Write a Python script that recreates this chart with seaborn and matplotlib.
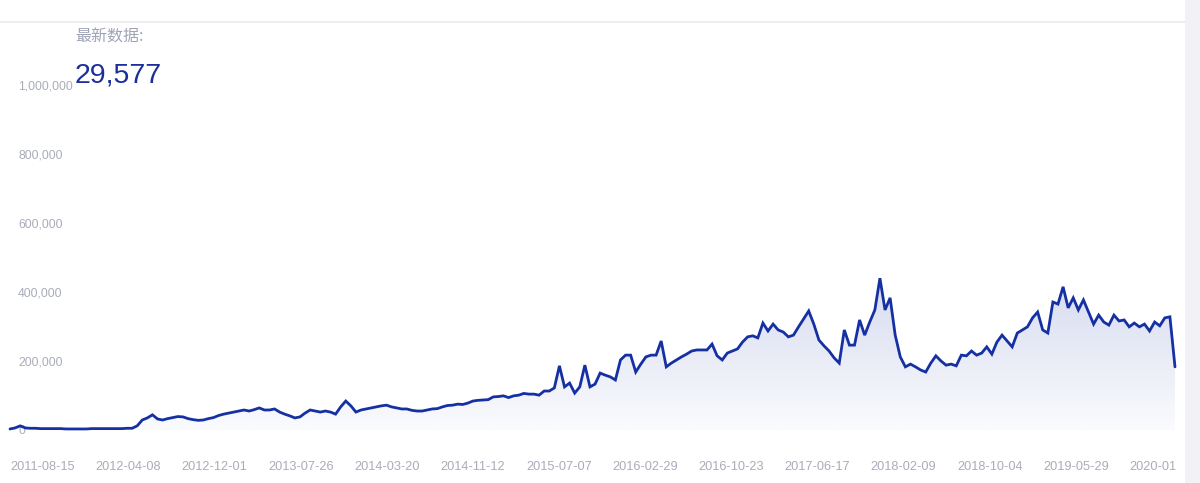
import numpy as np
import pandas as pd
import matplotlib
matplotlib.use("Agg")
import matplotlib.pyplot as plt
import matplotlib.dates as mdates
import seaborn as sns
from matplotlib.transforms import Bbox, TransformedBbox, IdentityTransform
from matplotlib.patches import Rectangle
from matplotlib.lines import Line2D

# ---------------- data ----------------
start_date = "2011-05-18"
step = "14D"
# values in thousands, one every 14 days
values_k = [
    3, 6, 12, 6,
    5, 5, 4, 4, 4, 4, 4, 3, 3, 3, 3, 3, 4, 4, 4, 4, 4, 4, 4, 5, 5,
    12, 29, 35, 44, 32,
    29, 33, 36, 39, 38, 33, 30, 28, 29, 33,
    36, 42, 46, 49, 52, 55, 58, 55, 59, 64,
    58, 58, 61, 52, 46, 41, 35, 38, 49, 58,
    55, 52, 55, 52, 46, 67, 84, 70, 52, 58,
    61, 64, 67, 70, 72, 67, 64, 61, 61, 57,
    55, 55, 58, 61, 62, 67, 71, 72, 75, 74,
    78, 84, 86, 87, 88, 96, 97, 99, 94, 99,
    101, 106, 104, 104, 101, 113, 113, 122, 186, 125,
    136, 107, 125, 188, 125, 133, 165, 159, 154, 145,
    203, 217, 217, 168, 191, 212, 217, 217, 258, 183,
    194, 203, 212, 220, 229, 232, 232, 232, 249, 215,
    203, 223, 229, 235, 255, 270, 273, 267, 310, 287,
    307, 290, 284, 270, 275, 299, 322, 345, 307, 261,
    244, 229, 209, 194, 290, 246, 246, 319, 275, 313,
    348, 440, 348, 383, 275, 212, 183, 191, 183, 174,
    168, 194, 215, 200, 188, 191, 186, 217, 215, 229,
    217, 223, 241, 220, 255, 275, 258, 241, 281, 290,
    299, 325, 342, 290, 281, 371, 365, 415, 354, 383,
    348, 377, 342, 307, 333, 313, 304, 333, 316, 319,
    299, 310, 299, 307, 287, 313, 302, 325, 328, 183,
]
tick_dates = ["2011-08-15", "2012-04-08", "2012-12-01", "2013-07-26",
              "2014-03-20", "2014-11-12", "2015-07-07", "2016-02-29",
              "2016-10-23", "2017-06-17", "2018-02-09", "2018-10-04",
              "2019-05-29", "2020-01-21"]
y_ticks = [0, 200000, 400000, 600000, 800000, 1000000]
y_labels = ["0", "200,000", "400,000", "600,000", "800,000", "1,000,000"]
latest_label = "最新数据:"
latest_value = "29,577"

dates = pd.date_range(start_date, periods=len(values_k), freq=step)
values = np.array(values_k, dtype=float) * 1000
df = pd.DataFrame({"date": dates, "value": values})

# ---------------- style ----------------
LINE = "#1530a3"
GREY = "#a9adb9"
W, H = 1200, 483

sns.set_theme(style="white")
plt.rcParams["font.family"] = ["Liberation Sans", "Noto Sans CJK SC", "DejaVu Sans"]

fig = plt.figure(figsize=(W / 100, H / 100), dpi=100)
fig.patch.set_facecolor("white")
ax = fig.add_axes([10 / W, (H - 430) / H, 1165 / W, 345 / H])
ax.set_facecolor("none")

sns.lineplot(data=df, x="date", y="value", ax=ax, color=LINE,
             linewidth=2.0, zorder=3)
for ln in ax.lines:
    ln.set_clip_on(False)
    ln.set_solid_joinstyle("miter")

# gradient area fill
poly = ax.fill_between(df["date"], df["value"], 0, facecolor="none",
                       edgecolor="none")
x0 = mdates.date2num(dates[0])
x1 = mdates.date2num(dates[-1])
vmax = values.max()
n = 256
alpha = np.linspace(0.18, 0.02, n)
rgba = np.zeros((n, 1, 4))
rgba[:, 0, 0] = 27 / 255
rgba[:, 0, 1] = 51 / 255
rgba[:, 0, 2] = 166 / 255
rgba[:, 0, 3] = alpha
im = ax.imshow(rgba, extent=[x0, x1, 0, vmax], aspect="auto",
               interpolation="bilinear", zorder=1, origin="upper")
im.set_clip_path(poly.get_paths()[0], ax.transData)

ax.set_xlim(x0, x1)
ax.set_ylim(0, 1000000)

# ticks
ax.set_xticks(pd.to_datetime(tick_dates))
ax.set_xticklabels(tick_dates)
ax.tick_params(axis="x", length=0, pad=22, labelsize=9.2, colors=GREY)
ax.set_yticks(y_ticks)
ax.set_yticklabels(y_labels)
ax.tick_params(axis="y", length=0, pad=-5.8, labelsize=8.8, colors=GREY)
for lbl in ax.get_yticklabels():
    lbl.set_horizontalalignment("left")
ax.set_xlabel("")
ax.set_ylabel("")
ax.grid(False)
for s in ax.spines.values():
    s.set_visible(False)

# clip the last (truncated) x label
last = ax.xaxis.get_major_ticks()[-1].label1
last.set_clip_on(True)
last.set_clip_box(TransformedBbox(Bbox.from_extents(0, 0, 1176, H),
                                  IdentityTransform()))

# header texts
fig.text(75 / W, 1 - 37 / H, latest_label, fontsize=11.5, color="#9ea3b5",
         va="center", ha="left", family=["Noto Sans CJK SC", "DejaVu Sans"])
fig.text(75 / W, 1 - 82 / H, latest_value, fontsize=20.5, color="#1c2e9b",
         va="baseline", ha="left")

# separator and right strip
fig.add_artist(Line2D([0, 1185 / W], [1 - 21.5 / H, 1 - 21.5 / H],
                      color="#eeeeee", lw=1.5, transform=fig.transFigure))
fig.add_artist(Rectangle((1185 / W, 0), 15 / W, 1, transform=fig.transFigure,
                         facecolor="#f1f1f6", edgecolor="none", zorder=10))

fig.savefig("out.png", dpi=100)
